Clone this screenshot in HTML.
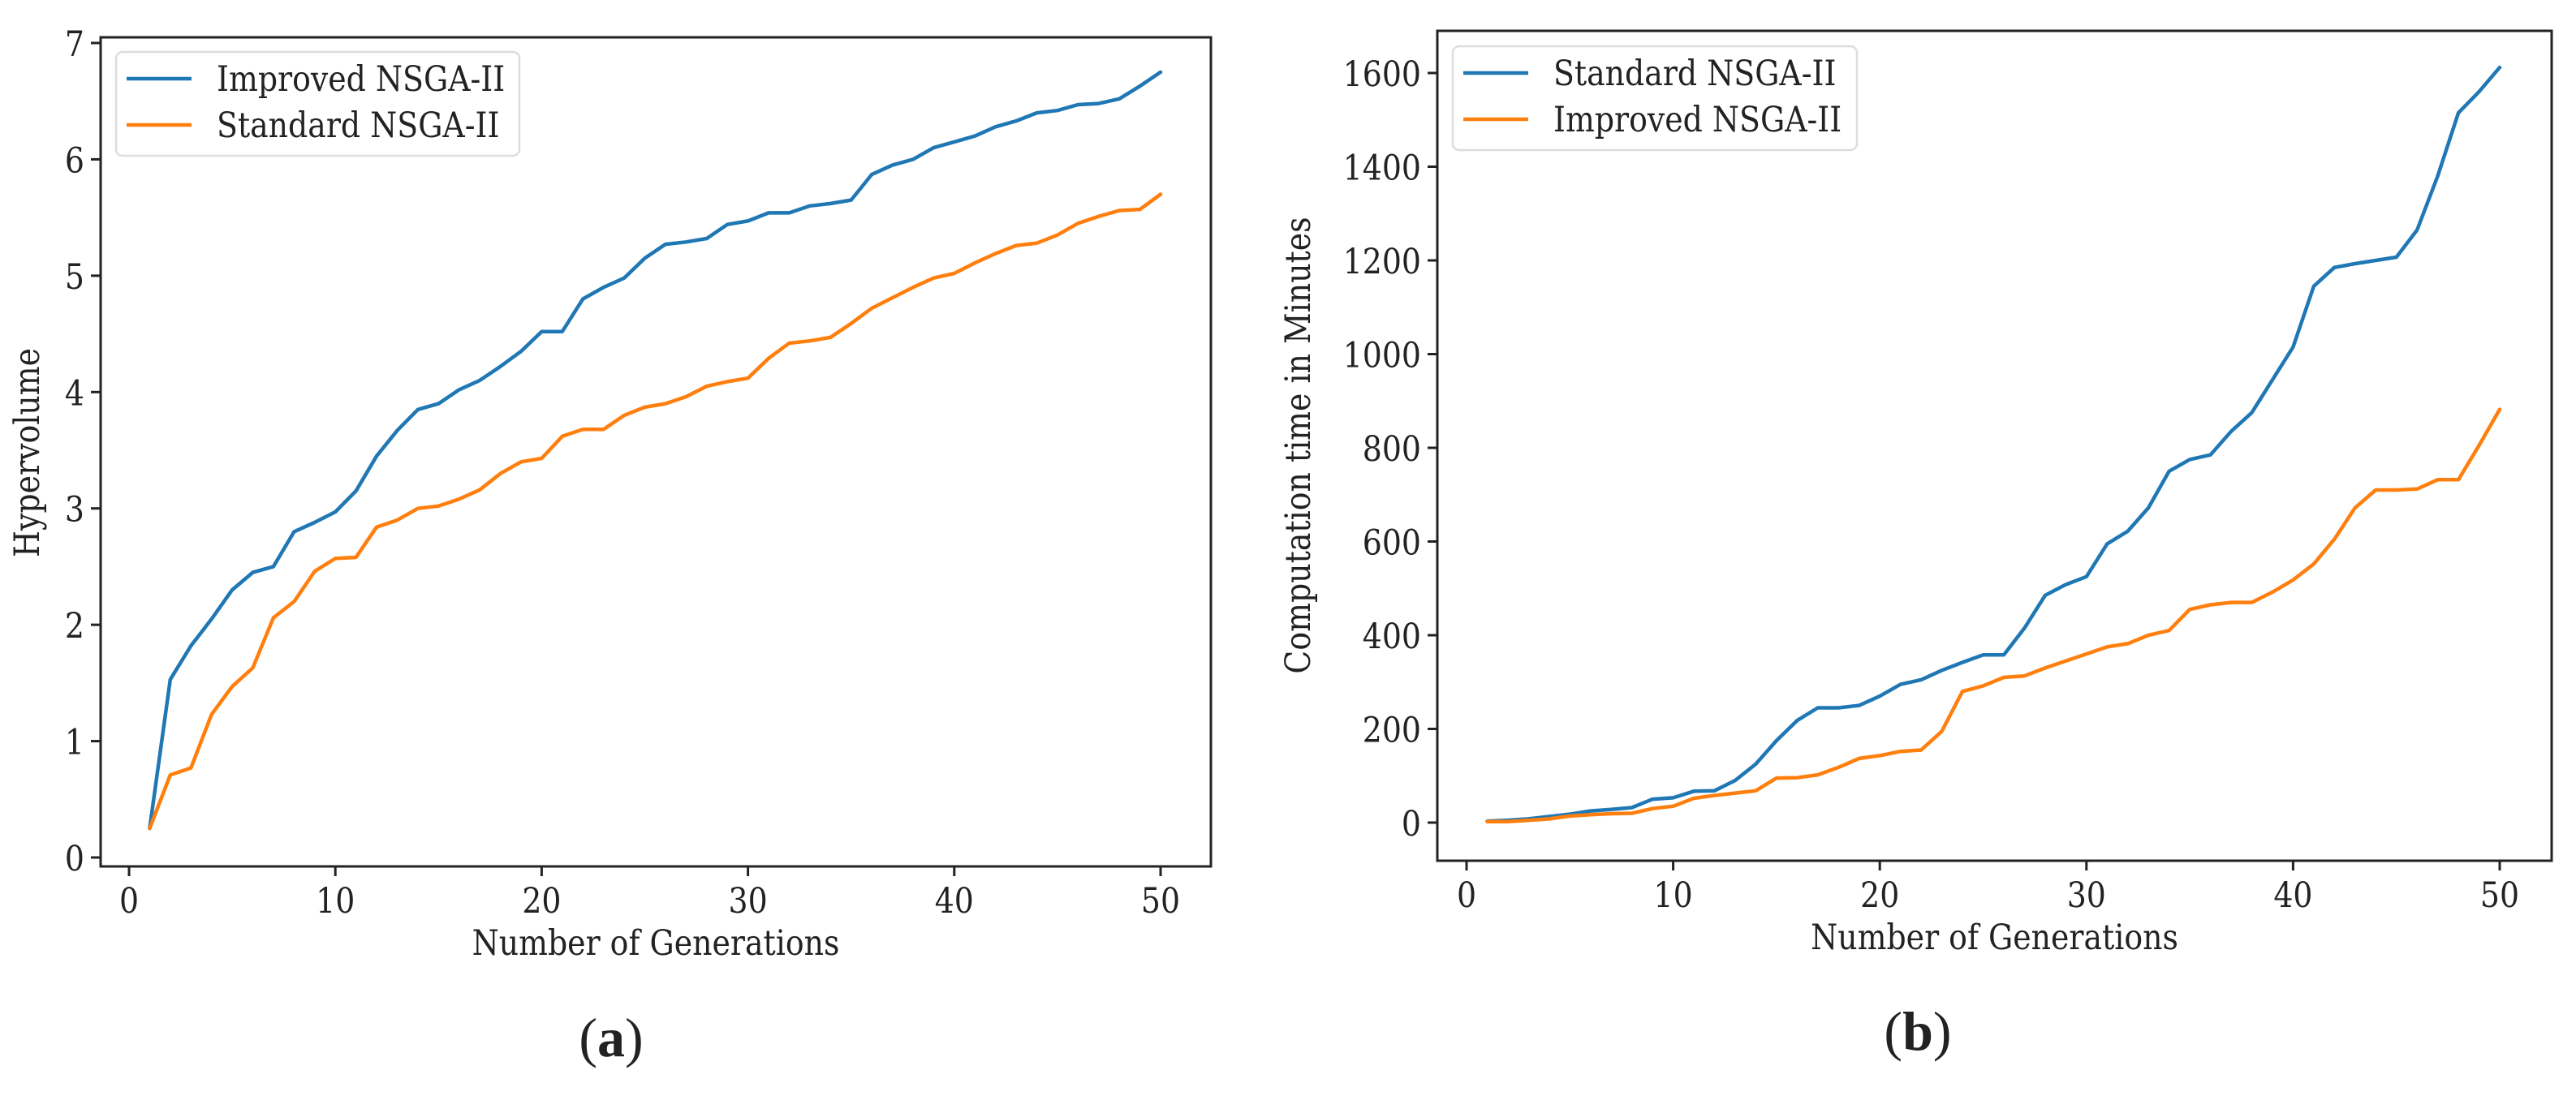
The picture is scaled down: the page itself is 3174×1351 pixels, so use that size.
<!DOCTYPE html>
<html><head><meta charset="utf-8"><style>
html,body{margin:0;padding:0;background:#fff;}
svg text{font-family:"DejaVu Serif","Liberation Serif",serif;fill:#222;}
</style></head><body>
<svg id="fig" width="3174" height="1346" viewBox="0 0 3174 1346" xmlns="http://www.w3.org/2000/svg">
<rect width="3174" height="1346" fill="#fff"/>
<text x="753" y="1302" text-anchor="middle" style="font-family:'Liberation Serif',serif;font-size:68px">(<tspan font-weight="bold">a</tspan>)</text>
<text x="2363" y="1294" text-anchor="middle" style="font-family:'Liberation Serif',serif;font-size:68px">(<tspan font-weight="bold">b</tspan>)</text>
</svg>
<script>
const gens = Array.from({length:50},(_,i)=>i+1);
const hvImproved = [0.25,1.53,1.82,2.05,2.3,2.45,2.5,2.8,2.88,2.97,3.15,3.45,3.67,3.85,3.9,4.02,4.1,4.22,4.35,4.52,4.52,4.8,4.9,4.98,5.15,5.27,5.29,5.32,5.44,5.47,5.54,5.54,5.6,5.62,5.65,5.87,5.95,6.0,6.1,6.15,6.2,6.28,6.33,6.4,6.42,6.47,6.48,6.52,6.63,6.75];
const hvStandard = [0.25,0.71,0.77,1.23,1.47,1.63,2.06,2.2,2.46,2.57,2.58,2.84,2.9,3.0,3.02,3.08,3.16,3.3,3.4,3.43,3.62,3.68,3.68,3.8,3.87,3.9,3.96,4.05,4.09,4.12,4.29,4.42,4.44,4.47,4.59,4.72,4.81,4.9,4.98,5.02,5.11,5.19,5.26,5.28,5.35,5.45,5.51,5.56,5.57,5.7];
const ctStandard = [3,5,8,13,18,25,28,32,50,53,67,68,90,125,175,218,245,245,250,270,295,305,325,342,358,358,415,485,508,525,595,622,672,750,775,785,835,875,945,1015,1145,1185,1193,1200,1207,1265,1380,1515,1560,1612];
const ctImproved = [2,2,5,8,14,17,19,20,30,35,52,58,63,68,95,96,102,118,137,143,152,155,195,280,292,310,313,330,345,360,375,382,400,410,455,465,470,470,492,518,552,605,672,710,710,712,732,732,805,882];
const xTicks = [0,10,20,30,40,50];
const yTicksA = [0,1,2,3,4,5,6,7];
const yTicksB = [0,200,400,600,800,1000,1200,1400,1600];

const NS="http://www.w3.org/2000/svg";
const svg=document.getElementById('fig');
const SX=0.88, FS=43;
function mk(tag,attrs,parent){const e=document.createElementNS(NS,tag);for(const k in attrs)e.setAttribute(k,attrs[k]);(parent||svg).appendChild(e);return e;}
function txt(parent,x,y,s,anchor,rot){
  const t=mk('text',{x:0,y:0,'text-anchor':anchor,'font-size':FS,
    transform:`translate(${x},${y})${rot?' rotate(-90)':''} scale(${SX},1)`},parent);
  t.textContent=s;
  return t;
}

function chart(cfg){
  const g=mk('g',{});
  
  
  const sx=v=>cfg.x0+v*(cfg.x50-cfg.x0)/50;
  const sy=v=>cfg.y0+v*(cfg.yTop-cfg.y0)/cfg.yTopVal;
  cfg.series.forEach(s=>{
    const pts=gens.map((x,i)=>sx(x).toFixed(1)+','+sy(s.vals[i]).toFixed(1)).join(' ');
    const p=mk('polyline',{points:pts,fill:'none',stroke:s.color,'stroke-width':4.5,'stroke-linejoin':'round','stroke-linecap':'round'},g);
    
    
  });
  const f=mk('rect',{x:cfg.L,y:cfg.T,width:cfg.R-cfg.L,height:cfg.B-cfg.T,fill:'none',stroke:'#222','stroke-width':3},g);
  
  
  xTicks.forEach(t=>{
    mk('line',{x1:sx(t),x2:sx(t),y1:cfg.B,y2:cfg.B+12,stroke:'#222','stroke-width':3},g);
    const tx=txt(g,sx(t),cfg.B+57,String(t),'middle');
    
    
  });
  cfg.yTicks.forEach(t=>{
    mk('line',{x1:cfg.L-12,x2:cfg.L,y1:sy(t),y2:sy(t),stroke:'#222','stroke-width':3},g);
    const tx=txt(g,cfg.L-20,sy(t)+16,String(t),'end');
    
    
  });
  const xl=txt(g,(cfg.L+cfg.R)/2,cfg.B+109,'Number of Generations','middle');
  
  
  const yl=txt(g,cfg.ylx,cfg.yly,cfg.ylabel,'middle',true);
  
  
  const lg=mk('g',{},g);
  
  
  mk('rect',{x:cfg.lx,y:cfg.ly,width:cfg.lw,height:128,rx:8,fill:'#fff','fill-opacity':0.9,stroke:'#ddd','stroke-width':2.5},lg);
  cfg.legend.forEach((s,i)=>{
    const yy=cfg.ly+33+i*57;
    mk('line',{x1:cfg.lx+13,x2:cfg.lx+93,y1:yy,y2:yy,stroke:s.color,'stroke-width':4.5},lg);
    const t=txt(lg,cfg.lx+124,yy+15,s.label,'start');
    
    
  });
}
const BLUE='#1f77b4', ORANGE='#ff7f0e';
chart({name:'chart-hypervolume',L:124,R:1492,T:46,B:1068,x0:159,x50:1430,y0:1057,yTop:53,yTopVal:7,yTicks:yTicksA,
  series:[{id:'line-improved',vals:hvImproved,color:BLUE},{id:'line-standard',vals:hvStandard,color:ORANGE}],
  legend:[{label:'Improved NSGA-II',color:BLUE},{label:'Standard NSGA-II',color:ORANGE}],
  lx:143,ly:64,lw:497,ylabel:'Hypervolume',ylx:48,yly:558});
chart({name:'chart-computation-time',L:1771,R:3144,T:38,B:1061,x0:1807,x50:3080,y0:1014,yTop:90,yTopVal:1600,yTicks:yTicksB,
  series:[{id:'line-standard',vals:ctStandard,color:BLUE},{id:'line-improved',vals:ctImproved,color:ORANGE}],
  legend:[{label:'Standard NSGA-II',color:BLUE},{label:'Improved NSGA-II',color:ORANGE}],
  lx:1790,ly:57,lw:498,ylabel:'Computation time in Minutes',ylx:1614,yly:549});
</script>
</body></html>
